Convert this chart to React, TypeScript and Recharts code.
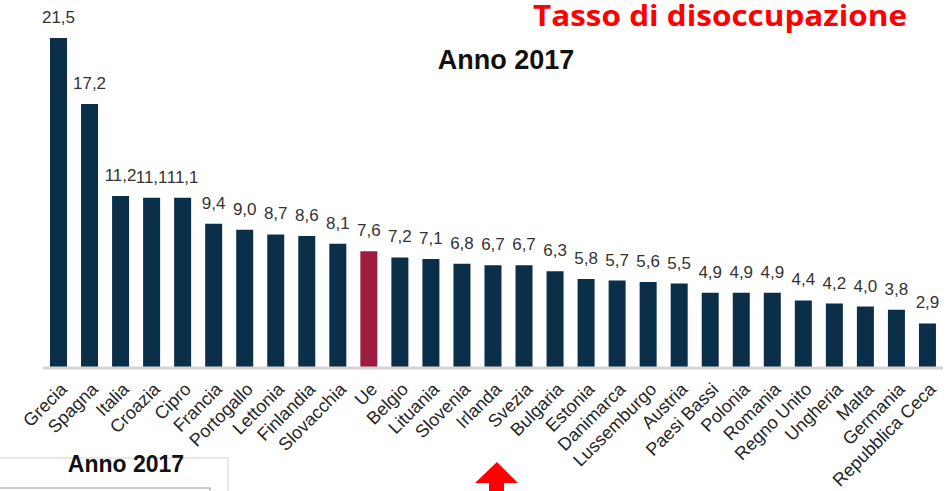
import React from "react";
import { BarChart, Bar, XAxis, YAxis, Cell, LabelList } from "recharts";

const countries = [
  "Grecia", "Spagna", "Italia", "Croazia", "Cipro", "Francia", "Portogallo",
  "Lettonia", "Finlandia", "Slovacchia", "Ue", "Belgio", "Lituania", "Slovenia",
  "Irlanda", "Svezia", "Bulgaria", "Estonia", "Danimarca", "Lussemburgo",
  "Austria", "Paesi Bassi", "Polonia", "Romania", "Regno Unito", "Ungheria",
  "Malta", "Germania", "Repubblica Ceca",
];

const rates = [
  21.5, 17.2, 11.2, 11.1, 11.1, 9.4, 9.0, 8.7, 8.6, 8.1, 7.6, 7.2, 7.1, 6.8,
  6.7, 6.7, 6.3, 5.8, 5.7, 5.6, 5.5, 4.9, 4.9, 4.9, 4.4, 4.2, 4.0, 3.8, 2.9,
];

const highlight = "Ue";

const NAVY = "#0b2f48";
const CRIMSON = "#9c1b40";
const FONT = "'Liberation Sans', Arial, sans-serif";

const data = countries.map((name, i) => ({ name, value: rates[i] }));

const fmt = (v: number) => v.toFixed(1).replace(".", ",");

function CountryTick(props: any) {
  const { x, y, payload } = props;
  return (
    <g transform={`translate(${x + 5},${y + 10})`}>
      <text
        transform="rotate(-45)"
        textAnchor="end"
        fontFamily={FONT}
        fontSize={18}
        fill="#262626"
        dy="0.35em"
      >
        {payload.value}
      </text>
    </g>
  );
}

function ValueLabel(props: any) {
  const { x, y, width, value } = props;
  return (
    <text
      x={x + width / 2}
      y={y - 15}
      textAnchor="middle"
      fontFamily={FONT}
      fontSize={17}
      fill="#333"
    >
      {fmt(value)}
    </text>
  );
}

export default function App() {
  return (
    <div
      style={{
        position: "absolute",
        left: 0,
        top: 0,
        width: 948,
        height: 491,
        background: "#fff",
        overflow: "hidden",
      }}
    >
      <BarChart
        width={948}
        height={491}
        data={data}
        margin={{ top: 38, right: 5, left: 43, bottom: 0 }}
        barCategoryGap={0}
      >
        <XAxis
          dataKey="name"
          interval={0}
          height={123}
          tickLine={false}
          axisLine={{ stroke: "#d4d4d4", strokeWidth: 3 }}
          tick={<CountryTick />}
        />
        <YAxis hide domain={[0, 21.5]} />
        <Bar dataKey="value" barSize={17} isAnimationActive={false}>
          {data.map((d) => (
            <Cell key={d.name} fill={d.name === highlight ? CRIMSON : NAVY} />
          ))}
          <LabelList dataKey="value" content={<ValueLabel />} />
        </Bar>
      </BarChart>

      {/* titles, the stray box at the bottom and the red arrow */}
      <svg
        width={948}
        height={491}
        style={{ position: "absolute", left: 0, top: 0, pointerEvents: "none" }}
      >
        <text
          x={907}
          y={26}
          textAnchor="end"
          fontFamily="'Open Sans', sans-serif"
          fontWeight="bold"
          fontSize={29}
          fill="#ff0000"
          textLength={374}
          lengthAdjust="spacingAndGlyphs"
        >
          Tasso di disoccupazione
        </text>
        <text
          x={506}
          y={69}
          textAnchor="middle"
          fontFamily={FONT}
          fontWeight="bold"
          fontSize={27}
          fill="#111"
        >
          Anno 2017
        </text>
        <rect x={-1} y={458} width={229} height={40} fill="#fff" stroke="#d0d0d0" />
        <rect x={-1} y={488} width={211} height={10} fill="#fff" stroke="#9a9a9a" />
        <text
          x={126}
          y={472}
          textAnchor="middle"
          fontFamily={FONT}
          fontWeight="bold"
          fontSize={23}
          fill="#111"
        >
          Anno 2017
        </text>
        <polygon
          points="497,462 518,483 504,483 504,491 489,491 489,483 475,483"
          fill="#ff0000"
        />
      </svg>
    </div>
  );
}
